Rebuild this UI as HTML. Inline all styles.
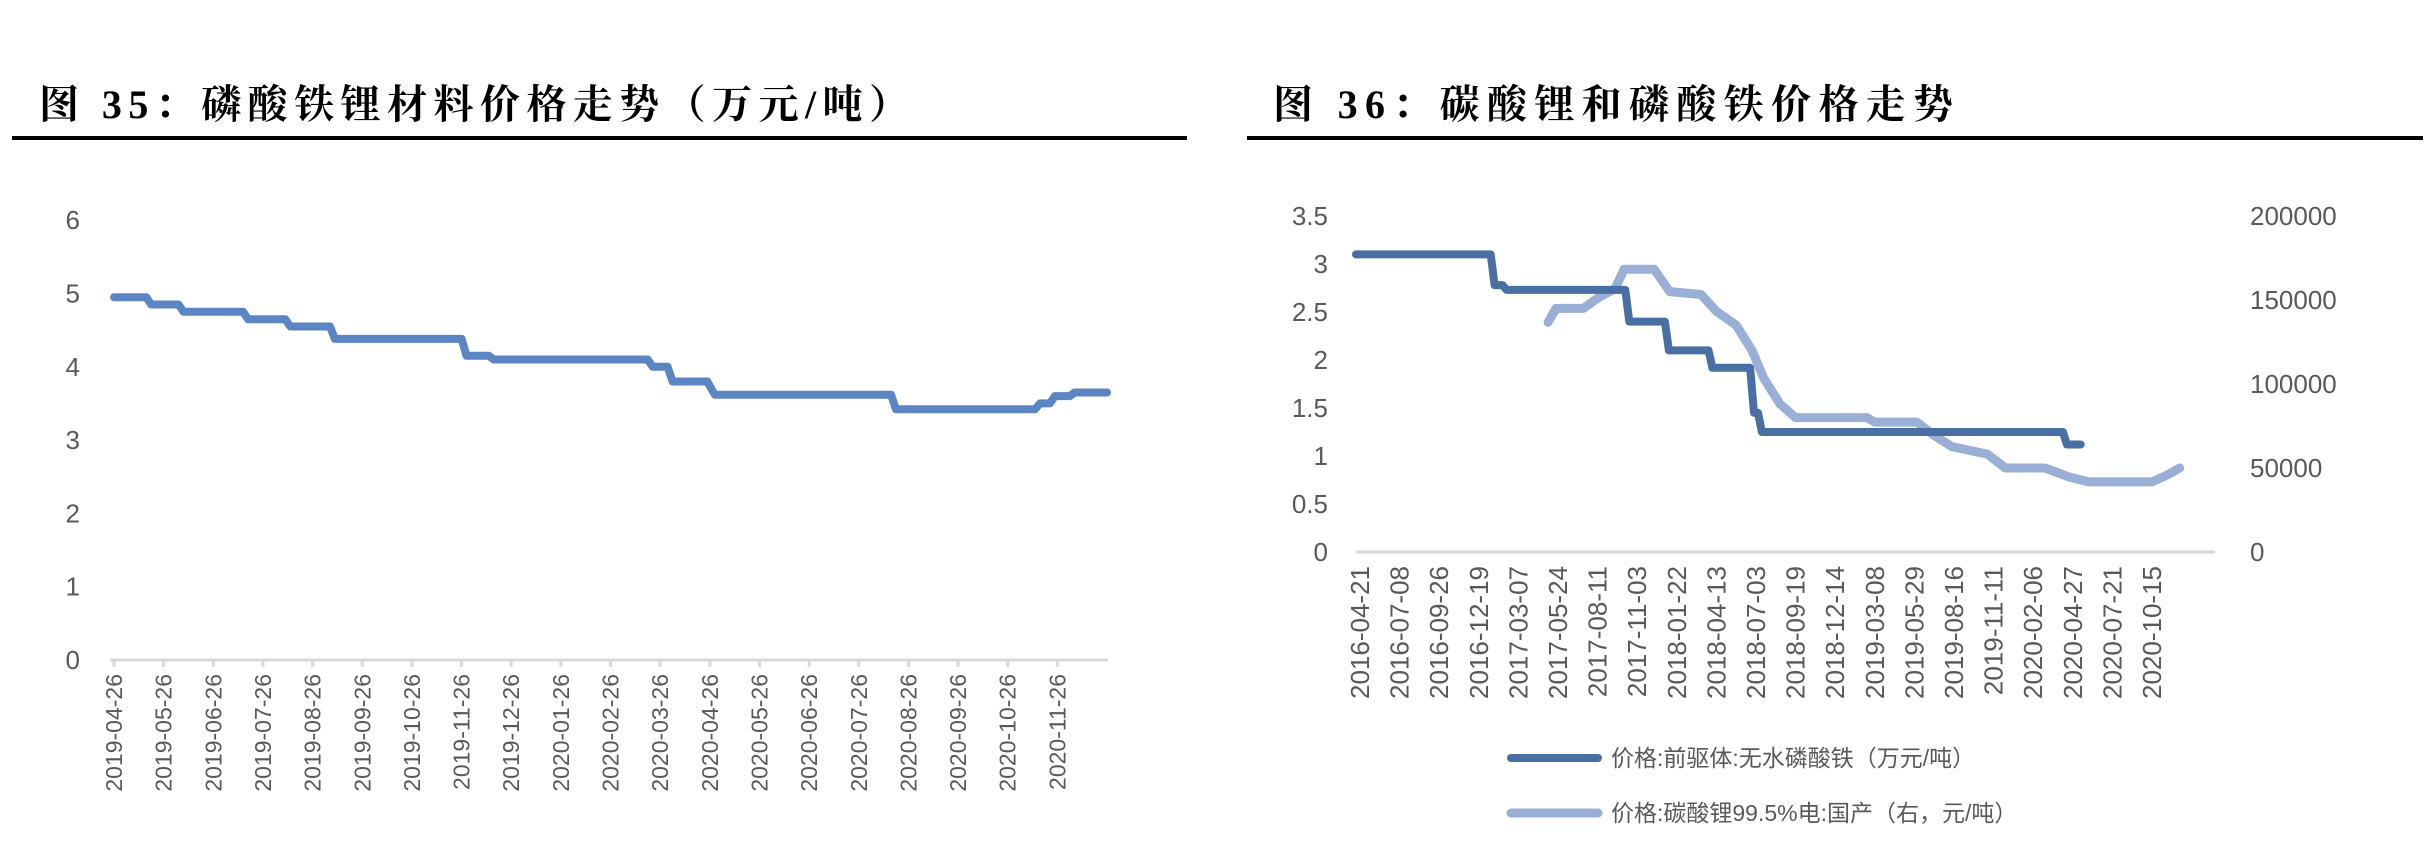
<!DOCTYPE html>
<html><head><meta charset="utf-8"><style>
html,body{margin:0;padding:0;background:#fff;}
svg{display:block;font-family:"Liberation Sans","Noto Sans CJK SC",sans-serif;}
</style></head><body>
<svg id="root" width="2430" height="854" viewBox="0 0 2430 854" xmlns="http://www.w3.org/2000/svg">
<text x="39" y="118" font-family="'Liberation Serif','Noto Serif CJK SC',serif" font-weight="bold" font-size="40" textLength="870" fill="#000">图 35：磷酸铁锂材料价格走势（万元/吨）</text>
<rect x="12" y="136" width="1175" height="4" fill="#000"/>
<text x="1273" y="118" font-family="'Liberation Serif','Noto Serif CJK SC',serif" font-weight="bold" font-size="40" textLength="680" fill="#000">图 36：碳酸锂和磷酸铁价格走势</text>
<rect x="1247" y="136" width="1176" height="4" fill="#000"/>
<g id="c1"></g>
<g id="c2"></g>
</svg>
<script>
// ---- Chart 35 data ----
const c1Labels = ["2019-04-26","2019-05-26","2019-06-26","2019-07-26","2019-08-26","2019-09-26","2019-10-26","2019-11-26","2019-12-26","2020-01-26","2020-02-26","2020-03-26","2020-04-26","2020-05-26","2020-06-26","2020-07-26","2020-08-26","2020-09-26","2020-10-26","2020-11-26"];
const c1YTicks = [0,1,2,3,4,5,6];
const c1Pos = [0,0.65,0.75,1.3,1.4,2.6,2.7,3.45,3.55,4.35,4.45,7.0,7.1,7.55,7.65,10.75,10.85,11.15,11.25,11.95,12.1,15.65,15.75,18.55,18.65,18.85,18.95,19.25,19.35,20.0];
const c1Val = [4.95,4.95,4.85,4.85,4.75,4.75,4.65,4.65,4.55,4.55,4.38,4.38,4.15,4.15,4.1,4.1,4.0,4.0,3.8,3.8,3.62,3.62,3.42,3.42,3.5,3.5,3.6,3.6,3.65,3.65];
// ---- Chart 36 data ----
const c2Labels = ["2016-04-21","2016-07-08","2016-09-26","2016-12-19","2017-03-07","2017-05-24","2017-08-11","2017-11-03","2018-01-22","2018-04-13","2018-07-03","2018-09-19","2018-12-14","2019-03-08","2019-05-29","2019-08-16","2019-11-11","2020-02-06","2020-04-27","2020-07-21","2020-10-15"];
const c2LeftTicks = ["0","0.5","1","1.5","2","2.5","3","3.5"];
const c2RightTicks = ["0","50000","100000","150000","200000"];
const feIdx = [-0.1,3.3,3.4,3.6,3.7,6.7,6.8,7.7,7.8,8.8,8.9,9.85,9.95,10.05,10.15,17.75,17.85,18.2];
const feVal = [3.1,3.1,2.78,2.78,2.73,2.73,2.4,2.4,2.1,2.1,1.92,1.92,1.45,1.45,1.25,1.25,1.12,1.12];
const liIdx = [4.75,4.95,5.64,6.04,6.44,6.67,7.43,7.82,8.61,9.0,9.5,9.9,10.2,10.6,11.0,12.8,13.0,14.06,14.46,14.95,15.84,16.3,17.3,17.9,18.4,20.0,20.4,20.7];
const liVal = [136700,145000,145000,151700,156700,168300,168300,155000,153300,143300,135000,120000,103300,88300,80000,80000,77300,77300,70000,62700,58300,50000,50000,44700,41700,41700,46000,50000];

const NS="http://www.w3.org/2000/svg";
function mk(parent,tag,attrs,text){const e=document.createElementNS(NS,tag);for(const k in attrs)e.setAttribute(k,attrs[k]);if(text!==undefined)e.textContent=text;parent.appendChild(e);return e;}

// Chart 35
(function(){
const g=document.getElementById('c1');
const x0=114, dx=49.65, y0=660, unit=73.3;
const X=i=>x0+dx*i, Y=v=>y0-v*unit;
c1YTicks.forEach(v=>{const t=mk(g,'text',{x:80,y:Y(v)+9,'text-anchor':'end','font-size':26,fill:'#595959'},String(v));

});
const ax=mk(g,'line',{x1:110,y1:y0,x2:1108,y2:y0,stroke:'#d9d9d9','stroke-width':3});


c1Labels.forEach((s,i)=>{const tk=mk(g,'line',{x1:X(i),y1:y0,x2:X(i),y2:y0+7,stroke:'#d9d9d9','stroke-width':3});


const t=mk(g,'text',{transform:`translate(${X(i)+8},${y0+14}) rotate(-90)`,'text-anchor':'end','font-size':23,fill:'#595959'},s);

});
const d=c1Pos.map((p,i)=>(i?'L':'M')+X(p).toFixed(1)+','+Y(c1Val[i]).toFixed(1)).join(' ');
const p=mk(g,'path',{d,fill:'none',stroke:'#5b86c3','stroke-width':8,'stroke-linejoin':'round','stroke-linecap':'round'});


})();

// Chart 36
(function(){
const g=document.getElementById('c2');
const x0=1360, dx=39.6, y0=552, lUnit=96, rMax=200000, h=336;
const X=i=>x0+dx*i, YL=v=>y0-v*lUnit, YR=v=>y0-v/rMax*h;
c2LeftTicks.forEach(s=>{const t=mk(g,'text',{x:1328,y:YL(parseFloat(s))+9,'text-anchor':'end','font-size':26,fill:'#595959'},s);

});
c2RightTicks.forEach(s=>{const t=mk(g,'text',{x:2250,y:YR(parseFloat(s))+9,'font-size':26,fill:'#595959'},s);

});
const ax=mk(g,'line',{x1:1356,y1:y0,x2:2215,y2:y0,stroke:'#d9d9d9','stroke-width':3});


c2Labels.forEach((s,i)=>{const t=mk(g,'text',{transform:`translate(${X(i)+9},${y0+14}) rotate(-90)`,'text-anchor':'end','font-size':26,fill:'#595959'},s);

});
const d1=feIdx.map((p,i)=>(i?'L':'M')+X(p).toFixed(1)+','+YL(feVal[i]).toFixed(1)).join(' ');
const d2=liIdx.map((p,i)=>(i?'L':'M')+X(p).toFixed(1)+','+YR(liVal[i]).toFixed(1)).join(' ');
const p2=mk(g,'path',{d:d2,fill:'none',stroke:'#9aafd6','stroke-width':9,'stroke-linejoin':'round','stroke-linecap':'round'});


const p1=mk(g,'path',{d:d1,fill:'none',stroke:'#4a6fa5','stroke-width':8,'stroke-linejoin':'round','stroke-linecap':'round'});


const l1=mk(g,'line',{x1:1511,y1:758,x2:1598,y2:758,stroke:'#4a6fa5','stroke-width':8,'stroke-linecap':'round'});


const t1=mk(g,'text',{x:1611,y:766,'font-size':23,fill:'#595959'},'价格:前驱体:无水磷酸铁（万元/吨）');


const l2=mk(g,'line',{x1:1511,y1:813,x2:1598,y2:813,stroke:'#9aafd6','stroke-width':9,'stroke-linecap':'round'});


const t2=mk(g,'text',{x:1611,y:821,'font-size':23,fill:'#595959'},'价格:碳酸锂99.5%电:国产（右，元/吨）');


})();
</script>
</body></html>
